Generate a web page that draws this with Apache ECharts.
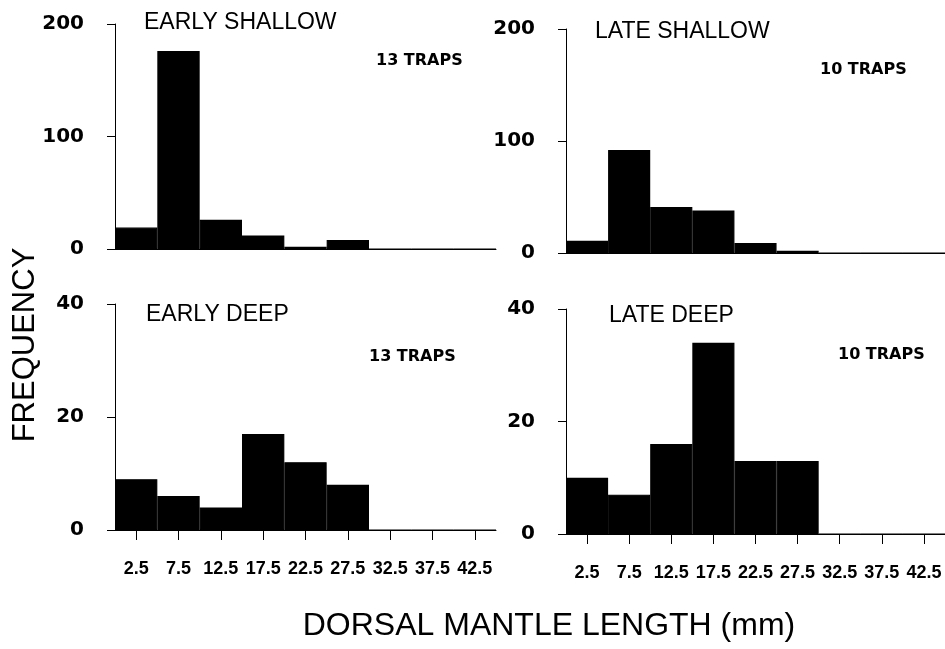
<!DOCTYPE html>
<html>
<head>
<meta charset="utf-8">
<script src="https://cdn.jsdelivr.net/npm/echarts@6/dist/echarts.min.js"></script>
<style>
  html, body { margin: 0; padding: 0; background: #fff; }
  #chart { width: 945px; height: 649px; }
</style>
</head>
<body>
<div id="chart"></div>
<script>
// Size classes (mm, bin centres)
const binLabels = ['2.5', '7.5', '12.5', '17.5', '22.5', '27.5', '32.5', '37.5', '42.5'];

// Catch counts per size class
const earlyShallow = [19, 176, 26, 12, 2, 8, 0, 0, 0];
const lateShallow  = [11, 92, 41, 38, 9, 2, 0, 0, 0];
const earlyDeep    = [9, 6, 4, 17, 12, 8, 0, 0, 0];
const lateDeep     = [10, 7, 16, 34, 13, 13, 0, 0, 0];

const panelTitles = ['EARLY SHALLOW', 'LATE SHALLOW', 'EARLY DEEP', 'LATE DEEP'];
const trapLabels  = ['13 TRAPS', '10 TRAPS', '13 TRAPS', '10 TRAPS'];
const yMax        = [200, 200, 40, 40];
const yStep       = [100, 100, 20, 20];

const seriesData = [earlyShallow, lateShallow, earlyDeep, lateDeep];

// panel layout: plot rectangles
const grids = [
  { left: 115, top: 24,  width: 381, height: 225 },
  { left: 566, top: 29,  width: 380, height: 224 },
  { left: 115, top: 304, width: 381, height: 226 },
  { left: 566, top: 309, width: 380, height: 225 }
];
const titlePos = [[144, 23], [595, 32], [146, 315], [609, 316]];
const trapPos  = [[376, 61], [820, 70], [369, 357], [838, 355]];

const isBottom = i => i >= 2;

const option = {
  backgroundColor: '#ffffff',
  animation: false,
  grid: grids.map(g => Object.assign({ containLabel: false }, g)),
  xAxis: grids.map((g, i) => ({
    type: 'category',
    gridIndex: i,
    data: binLabels,
    axisLine: { show: true, lineStyle: { color: '#000', width: 1 } },
    axisTick: { show: isBottom(i), alignWithLabel: true, length: 10, lineStyle: { color: '#000', width: 1 } },
    axisLabel: {
      show: isBottom(i), margin: 30, interval: 0,
      fontFamily: 'Liberation Sans', fontWeight: 'bold', fontSize: 18, color: '#000'
    },
    splitLine: { show: false }
  })),
  yAxis: grids.map((g, i) => ({
    type: 'value',
    gridIndex: i,
    min: 0,
    max: yMax[i],
    interval: yStep[i],
    axisLine: { show: true, lineStyle: { color: '#000', width: 1 } },
    axisTick: { show: true, length: 8, lineStyle: { color: '#000', width: 1 } },
    axisLabel: {
      margin: 31,
      fontFamily: 'DejaVu Sans', fontWeight: 'bold', fontSize: 20, color: '#000'
    },
    splitLine: { show: false }
  })),
  series: seriesData.map((d, i) => ({
    type: 'bar',
    xAxisIndex: i,
    yAxisIndex: i,
    data: d,
    barCategoryGap: '0%',
    // outline in the fill colour closes the seams between adjacent bins
    itemStyle: { color: '#000', borderColor: '#000', borderWidth: 1.2 },
    silent: true
  })),
  graphic: [].concat(
    panelTitles.map((t, i) => ({
      type: 'text', x: titlePos[i][0], y: titlePos[i][1], silent: true,
      style: { text: t, font: '23px "Liberation Sans"', fill: '#000', align: 'left', verticalAlign: 'middle' }
    })),
    trapLabels.map((t, i) => ({
      type: 'text', x: trapPos[i][0], y: trapPos[i][1], silent: true,
      style: { text: t, font: 'bold 16px "DejaVu Sans"', fill: '#000', align: 'left', verticalAlign: 'middle' }
    })),
    [
      {
        type: 'text', x: 25, y: 345, rotation: Math.PI / 2, silent: true,
        style: { text: 'FREQUENCY', font: '31px "Liberation Sans"', fill: '#000', align: 'center', verticalAlign: 'middle' }
      },
      {
        type: 'text', x: 549, y: 626, silent: true,
        style: { text: 'DORSAL MANTLE LENGTH (mm)', font: '32px "Liberation Sans"', fill: '#000', align: 'center', verticalAlign: 'middle' }
      }
    ]
  )
};

const chart = echarts.init(document.getElementById('chart'), null, { renderer: 'canvas' });
chart.setOption(option);
</script>
</body>
</html>
